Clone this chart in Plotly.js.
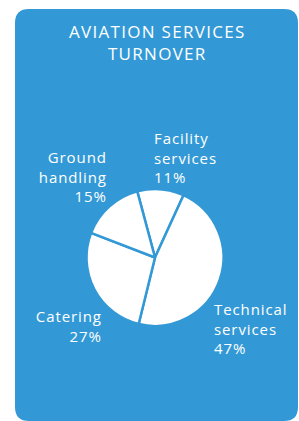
<!DOCTYPE html>
<html>
<head>
<meta charset="utf-8">
<script src="https://cdn.plot.ly/plotly-3.0.1.min.js"></script>
<style>
html,body{margin:0;padding:0;background:#fff;}
#chart{width:299px;height:421px;}
#chart .annotation-text{letter-spacing:0.9px;}
#chart .annotation:last-of-type .annotation-text{letter-spacing:1.3px;}
</style>
</head>
<body>
<div id="chart"></div>
<script>
// Data
var categories = ['Facility<br>services', 'Technical<br>services', 'Catering', 'Ground<br>handling'];
var shares = [11, 47, 27, 15];
var chartTitle = 'AVIATION SERVICES<br>TURNOVER';

var W = 299, H = 421;
var blue = 'rgb(51,153,214)';
var font = 'Open Sans, Lato, sans-serif';

// background rounded box (pixel values converted to paper fractions)
function px(x){return (x/W).toFixed(4);}
function py(y){return (1 - y/H).toFixed(4);}
var L=15, R=298, T=9, B=421, r=14;
var boxPath = 'M'+px(L+r)+','+py(T)+' L'+px(R-r)+','+py(T)+' Q'+px(R)+','+py(T)+' '+px(R)+','+py(T+r)+
  ' L'+px(R)+','+py(B-r)+' Q'+px(R)+','+py(B)+' '+px(R-r)+','+py(B)+
  ' L'+px(L+r)+','+py(B)+' Q'+px(L)+','+py(B)+' '+px(L)+','+py(B-r)+
  ' L'+px(L)+','+py(T+r)+' Q'+px(L)+','+py(T)+' '+px(L+r)+','+py(T)+' Z';

var trace = {
  type: 'pie',
  labels: categories,
  values: shares,
  sort: false,
  direction: 'clockwise',
  rotation: -15,
  textinfo: 'none',
  hoverinfo: 'skip',
  marker: {colors: categories.map(function(){return '#ffffff';}), line: {color: blue, width: 2.5}},
  domain: {x: [86/W, 224/W], y: [1-326/H, 1-189/H]},
  showlegend: false
};

// label placements (layout only)
var labelPos = [
  {x: 152, y: 157, xanchor: 'left', align: 'left'},
  {x: 212, y: 328, xanchor: 'left', align: 'left'},
  {x: 104, y: 326, xanchor: 'right', align: 'right'},
  {x: 109, y: 176, xanchor: 'right', align: 'right'}
];

var annotations = categories.map(function(c, i){
  var p = labelPos[i];
  return {
    xref: 'paper', yref: 'paper',
    x: p.x/W, y: 1 - p.y/H,
    xanchor: p.xanchor, yanchor: 'middle', align: p.align,
    text: c + '<br>' + shares[i] + '%',
    showarrow: false,
    font: {family: font, size: 15, color: '#ffffff'}
  };
});

annotations.push({
  xref: 'paper', yref: 'paper',
  x: 157/W, y: 1 - 42/H,
  xanchor: 'center', yanchor: 'middle', align: 'center',
  text: chartTitle,
  showarrow: false,
  font: {family: font, size: 17, color: '#ffffff'}
});

var layout = {
  width: W, height: H,
  margin: {l:0, r:0, t:0, b:0, pad:0},
  paper_bgcolor: '#ffffff',
  plot_bgcolor: 'rgba(0,0,0,0)',
  shapes: [{type: 'path', xref: 'paper', yref: 'paper', path: boxPath, fillcolor: blue, line: {width: 0}, layer: 'below'}],
  annotations: annotations,
  showlegend: false
};

Plotly.newPlot('chart', [trace], layout, {displayModeBar: false, staticPlot: true});
</script>
</body>
</html>
